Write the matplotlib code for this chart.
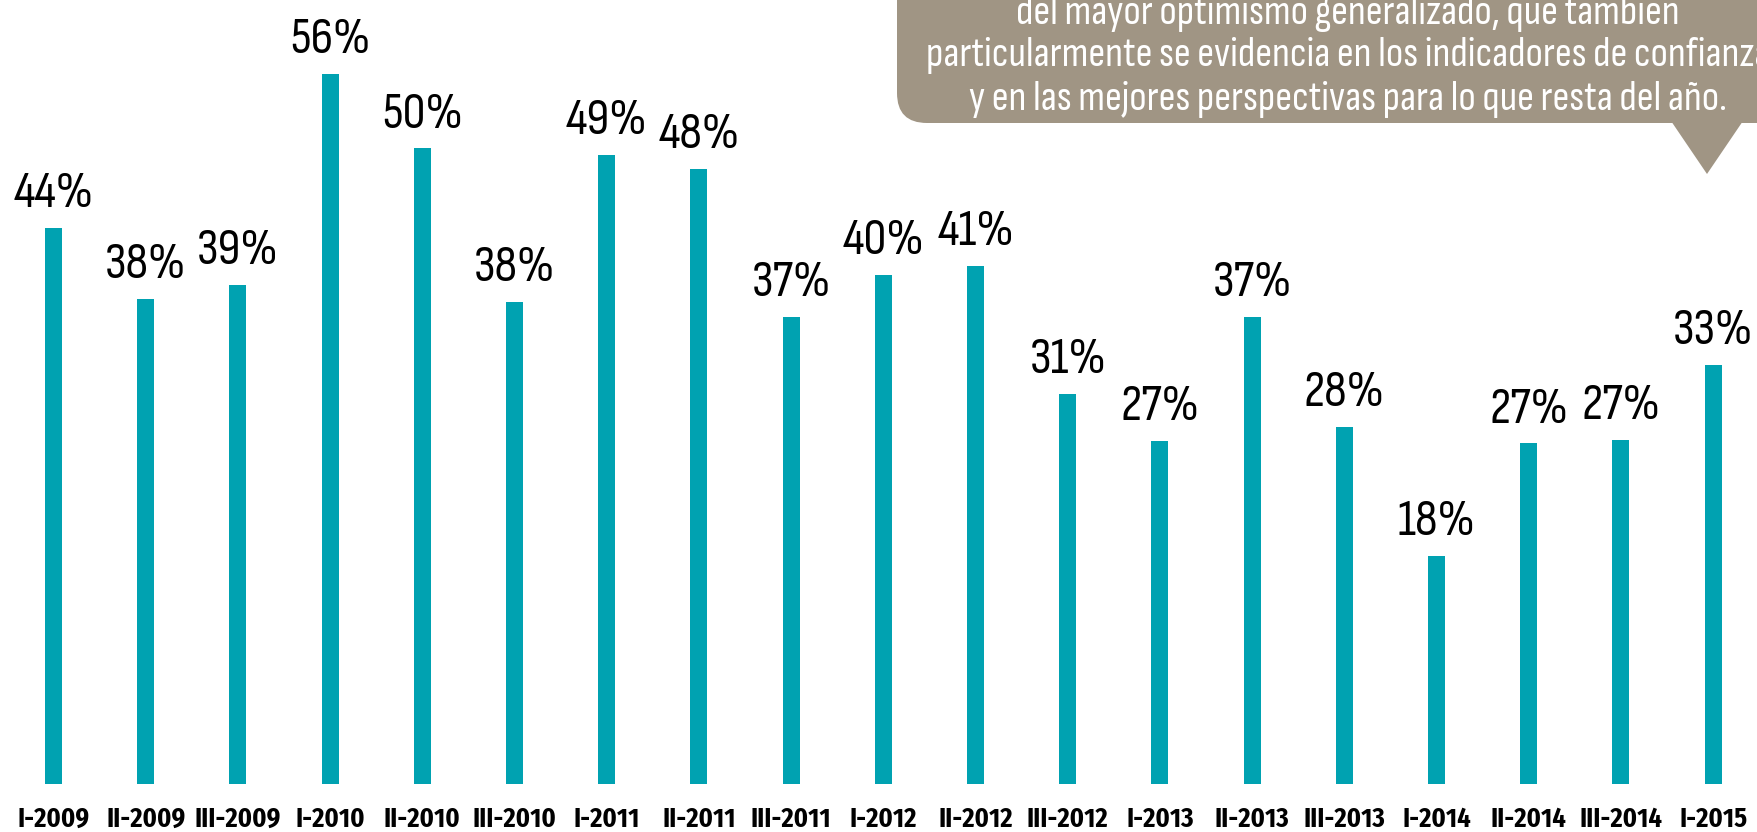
import matplotlib
matplotlib.use('Agg')
import matplotlib.pyplot as plt
from matplotlib.patches import FancyBboxPatch, Polygon

# %% Data

periods = ['I-2009', 'II-2009', 'III-2009', 'I-2010', 'II-2010', 'III-2010',
           'I-2011', 'II-2011', 'III-2011', 'I-2012', 'II-2012', 'III-2012',
           'I-2013', 'II-2013', 'III-2013', 'I-2014', 'II-2014', 'III-2014',
           'I-2015']
values = [43.9, 38.3, 39.4, 56.1, 50.2, 38.1, 49.7, 48.6, 36.9, 40.2, 40.9,
          30.8, 27.1, 36.9, 28.2, 18.0, 26.9, 27.2, 33.1]
labels = ['44%', '38%', '39%', '56%', '50%', '38%', '49%', '48%', '37%', '40%',
          '41%', '31%', '27%', '37%', '28%', '18%', '27%', '27%', '33%']
calloutLines = ['del mayor optimismo generalizado, que también',
                'particularmente se evidencia en los indicadores de confianza',
                'y en las mejores perspectivas para lo que resta del año.']

# %% Set-up

barColour = '#00A2B1'
boxColour = '#A09584'
fam = ['Sofia Sans Condensed', 'DejaVu Sans']
famBold = ['Fira Sans Condensed', 'DejaVu Sans']

fig = plt.figure(figsize=(17.58, 8.32), dpi=100)
ax = fig.add_axes([0, 0, 1, 1])

x = list(range(len(periods)))
ax.bar(x, values, width=0.185, color=barColour, zorder=2)

#Value labels above bars
for xi, v, lab in zip(x, values, labels):
    ax.annotate(lab, (xi, v), xytext=(0, 15), textcoords='offset points',
                ha='center', va='baseline', fontsize=37, family=fam,
                color='black')

#Category labels under bars
for xi, p in zip(x, periods):
    ax.annotate(p, (xi, 0), xytext=(0, -31), textcoords='offset points',
                ha='center', va='baseline', fontsize=19, fontweight='bold',
                family=famBold, color='black')

ax.set_xlim(-0.58, 18.487)
ax.set_ylim(-3.79, 61.93)
ax.axis('off')

# %% Callout box in pixel space
ov = fig.add_axes([0, 0, 1, 1], zorder=5)
ov.set_xlim(0, 1758)
ov.set_ylim(832, 0)
ov.axis('off')

box = FancyBboxPatch((897, -100), 1000, 223,
                     boxstyle='round,pad=0,rounding_size=30',
                     facecolor=boxColour, edgecolor='none')
ov.add_patch(box)
ov.add_patch(Polygon([(1669, 118), (1745, 118), (1707, 174)],
                     closed=True, facecolor=boxColour, edgecolor='none'))

for yy, line in zip([13, 56, 99], calloutLines):
    ov.text(1348, yy, line, ha='center', va='center', fontsize=30,
            family=fam, color='white')

plt.savefig('out.png', dpi=100, facecolor='white')
